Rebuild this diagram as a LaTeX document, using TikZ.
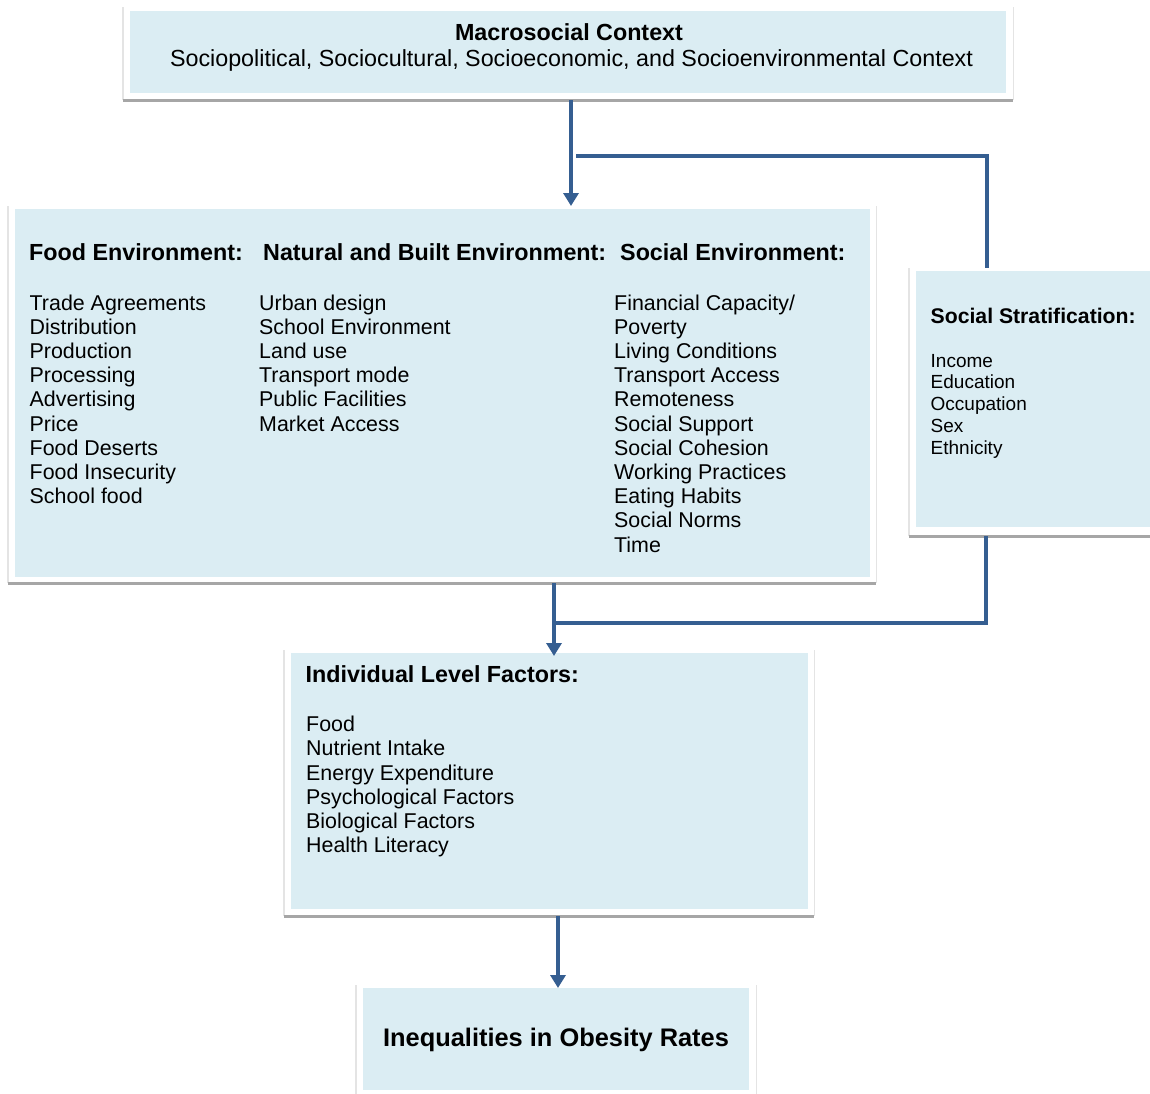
\documentclass[tikz,border=0pt]{standalone}
\usepackage{fontspec}
\setmainfont{Liberation Sans}
\usetikzlibrary{arrows.meta}
\definecolor{boxfill}{RGB}{219,237,243}
\definecolor{arrowblue}{RGB}{53,94,145}
\definecolor{shadowgray}{RGB}{166,166,166}
\definecolor{sidegray}{RGB}{228,228,228}
\tikzset{
  fillbox/.style={fill=boxfill, draw=none, inner sep=0pt, anchor=north west},
  framebox/.style={draw=none, inner sep=0pt, anchor=north west},
  sideline/.style={sidegray, line width=1.5pt},
  bottomline/.style={shadowgray, line width=3.5pt},
  conn/.style={arrowblue, line width=4pt},
  arr/.style={conn, -{Triangle[width=15pt,length=13pt]}},
  head/.style={anchor=base west, inner sep=0pt, font=\fontsize{23.3}{28}\selectfont\bfseries},
  item/.style={anchor=base west, inner sep=0pt, font=\fontsize{21.4}{24}\selectfont},
  shead/.style={anchor=base west, inner sep=0pt, font=\fontsize{21.2}{25}\selectfont\bfseries},
  sitem/.style={anchor=base west, inner sep=0pt, font=\fontsize{19}{22}\selectfont},
}
\begin{document}
\begin{tikzpicture}[x=1pt,y=-1pt]
\useasboundingbox (0,0) rectangle (1150,1093);

% ---------- frames ----------
\node[framebox, minimum width=890pt, minimum height=93pt] (macroF) at (123,7) {};
\node[framebox, minimum width=868pt, minimum height=377pt] (envF) at (8,206) {};
\node[framebox, minimum width=251pt, minimum height=268pt] (stratF) at (909,268) {};
\node[framebox, minimum width=530pt, minimum height=266pt] (indivF) at (284,650) {};
\node[framebox, minimum width=400pt, minimum height=115pt] (ineqF) at (356,985) {};

\foreach \f in {macroF,envF,stratF,indivF,ineqF}{
  \draw[sideline] (\f.north west) -- (\f.south west);
  \draw[sideline] (\f.north east) -- (\f.south east);
  \draw[bottomline] (\f.south west) -- (\f.south east);
}

% ---------- fills ----------
\node[fillbox, minimum width=876pt, minimum height=82pt] (macro) at (130,11) {};
\node[fillbox, minimum width=855pt, minimum height=368pt] (env) at (15,209) {};
\node[fillbox, minimum width=240pt, minimum height=256pt] (strat) at (916,271) {};
\node[fillbox, minimum width=517pt, minimum height=256pt] (indiv) at (291,653) {};
\node[fillbox, minimum width=386pt, minimum height=102pt] (ineq) at (363,988) {};

% ---------- texts ----------
\node[anchor=base, inner sep=0pt, font=\fontsize{23.3}{28}\selectfont\bfseries] (macroT) at (569,40) {Macrosocial Context};
\node[anchor=base, inner sep=0pt, font=\fontsize{23.3}{28}\selectfont] (macroS) at (571.5,66) {Sociopolitical, Sociocultural, Socioeconomic, and Socioenvironmental Context};

\node[head] (foodH) at (29,260) {Food Environment:};
\node[head] (natH) at (263,260) {Natural and Built Environment:};
\node[head] (socH) at (620,260) {Social Environment:};

\foreach \t [count=\i] in {Trade Agreements,Distribution,Production,Processing,Advertising,Price,Food Deserts,Food Insecurity,School food}
  \node[item] (food\i) at (29.5,{310+(\i-1)*24.2}) {\t};
\foreach \t [count=\i] in {Urban design,School Environment,Land use,Transport mode,Public Facilities,Market Access}
  \node[item] (nat\i) at (259,{310+(\i-1)*24.2}) {\t};
\foreach \t [count=\i] in {Financial Capacity/,Poverty,Living Conditions,Transport Access,Remoteness,Social Support,Social Cohesion,Working Practices,Eating Habits,Social Norms,Time}
  \node[item] (soc\i) at (614,{310+(\i-1)*24.2}) {\t};

\node[shead] (stratH) at (930.5,323) {Social Stratification:};
\foreach \t [count=\i] in {Income,Education,Occupation,Sex,Ethnicity}
  \node[sitem] (strat\i) at (930.5,{367+(\i-1)*21.8}) {\t};

\node[head] (indivH) at (305.5,682) {Individual Level Factors:};
\foreach \t [count=\i] in {Food,Nutrient Intake,Energy Expenditure,Psychological Factors,Biological Factors,Health Literacy}
  \node[item] (indiv\i) at (306,{731.5+(\i-1)*24.25}) {\t};

\node[anchor=base, inner sep=0pt, font=\fontsize{25.4}{30}\selectfont\bfseries] (ineqT) at (556,1046) {Inequalities in Obesity Rates};

% ---------- connectors ----------
\coordinate (a1x) at (571,0);
\coordinate (a4x) at (554,0);
\coordinate (a5x) at (558,0);
\coordinate (j1) at (576,156);
\coordinate (k1) at (987,156);
\coordinate (k2) at (986,623);
\coordinate (j2) at (555,623);

\draw[arr] (macroF.south -| a1x) -- (envF.north -| a1x);
\draw[conn] (j1) -- (k1) -- (k1 |- stratF.north);
\draw[conn] (k2 |- stratF.south) -- (k2) -- (j2);
\draw[arr] (envF.south -| a4x) -- ([yshift=-3pt]indiv.north -| a4x);
\draw[arr] (indivF.south -| a5x) -- (ineq.north -| a5x);
\end{tikzpicture}
\end{document}
